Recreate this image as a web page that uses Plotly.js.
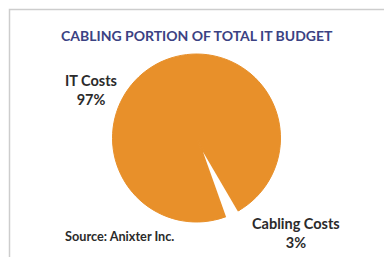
<!DOCTYPE html>
<html>
<head>
<meta charset="utf-8">
<script src="https://cdn.plot.ly/plotly-3.0.1.min.js"></script>
<style>html,body{margin:0;padding:0;background:#fff;}#chart{width:384px;height:257px;}</style>
</head>
<body>
<div id="chart"></div>
<script>
// Data
const categories = ["Cabling Costs", "IT Costs"];
const shares = [3, 97];
const labelText = ["Cabling Costs<br>3%", "IT Costs<br>97%"];
const titleText = "CABLING PORTION OF TOTAL IT BUDGET";
const sourceText = "Source: Anixter Inc.";

const W = 384, H = 257;
const orange = "#e8902a";
const cx = 196.5, cy = 138, R = 84.5, pullFrac = 0.18;
function dom(r) {
  return {
    x: [(cx - r) / W, (cx + r) / W],
    y: [(H - cy - r) / H, (H - cy + r) / H]
  };
}

const base = {
  type: "pie",
  labels: categories,
  values: shares,
  sort: false,
  direction: "clockwise",
  rotation: 149.6,
  textinfo: "none",
  hoverinfo: "skip",
  showlegend: false,
  domain: dom(R - 0.5),
  marker: { colors: [orange, orange], line: { width: 1, color: orange } }
};
const notch = {
  type: "pie",
  labels: categories,
  values: shares,
  sort: false,
  direction: "clockwise",
  rotation: 149.6,
  textinfo: "none",
  hoverinfo: "skip",
  showlegend: false,
  pull: [pullFrac, 0],
  domain: dom(R * (1 + pullFrac)),
  marker: { colors: ["#ffffff", "rgba(0,0,0,0)"], line: { width: 0 } }
};

const font = "Lato, 'Open Sans', sans-serif";
const txt = "#2b2b2b";
const layout = {
  width: W, height: H,
  margin: { l: 0, r: 0, t: 0, b: 0 },
  paper_bgcolor: "#ffffff",
  showlegend: false,
  shapes: [{
    type: "rect", xref: "paper", yref: "paper",
    x0: 9.5 / W, x1: 1.2, y0: -0.2, y1: (H - 9.5) / H,
    line: { color: "#cdcdcd", width: 1.5 }, layer: "below"
  }],
  annotations: [
    { text: "<b>" + titleText + "</b>", xref: "paper", yref: "paper",
      x: 196.5 / W, y: (H - 36) / H, xanchor: "center", yanchor: "middle", showarrow: false,
      font: { family: font, size: 14, color: "#3b4283" } },
    { text: "<b>" + labelText[1] + "</b>", xref: "paper", yref: "paper",
      x: 90.5 / W, y: (H - 89.5) / H, xanchor: "center", yanchor: "middle", showarrow: false,
      font: { family: font, size: 14.5, color: txt } },
    { text: "<b>" + labelText[0] + "</b>", xref: "paper", yref: "paper",
      x: 295.7 / W, y: (H - 233) / H, xanchor: "center", yanchor: "middle", showarrow: false,
      font: { family: font, size: 14.5, color: txt } },
    { text: "<b>" + sourceText + "</b>", xref: "paper", yref: "paper",
      x: 119 / W, y: (H - 236) / H, xanchor: "center", yanchor: "middle", showarrow: false,
      font: { family: font, size: 12.7, color: txt } }
  ]
};

Plotly.newPlot("chart", [base, notch], layout, { staticPlot: true, displayModeBar: false });
</script>
</body>
</html>
